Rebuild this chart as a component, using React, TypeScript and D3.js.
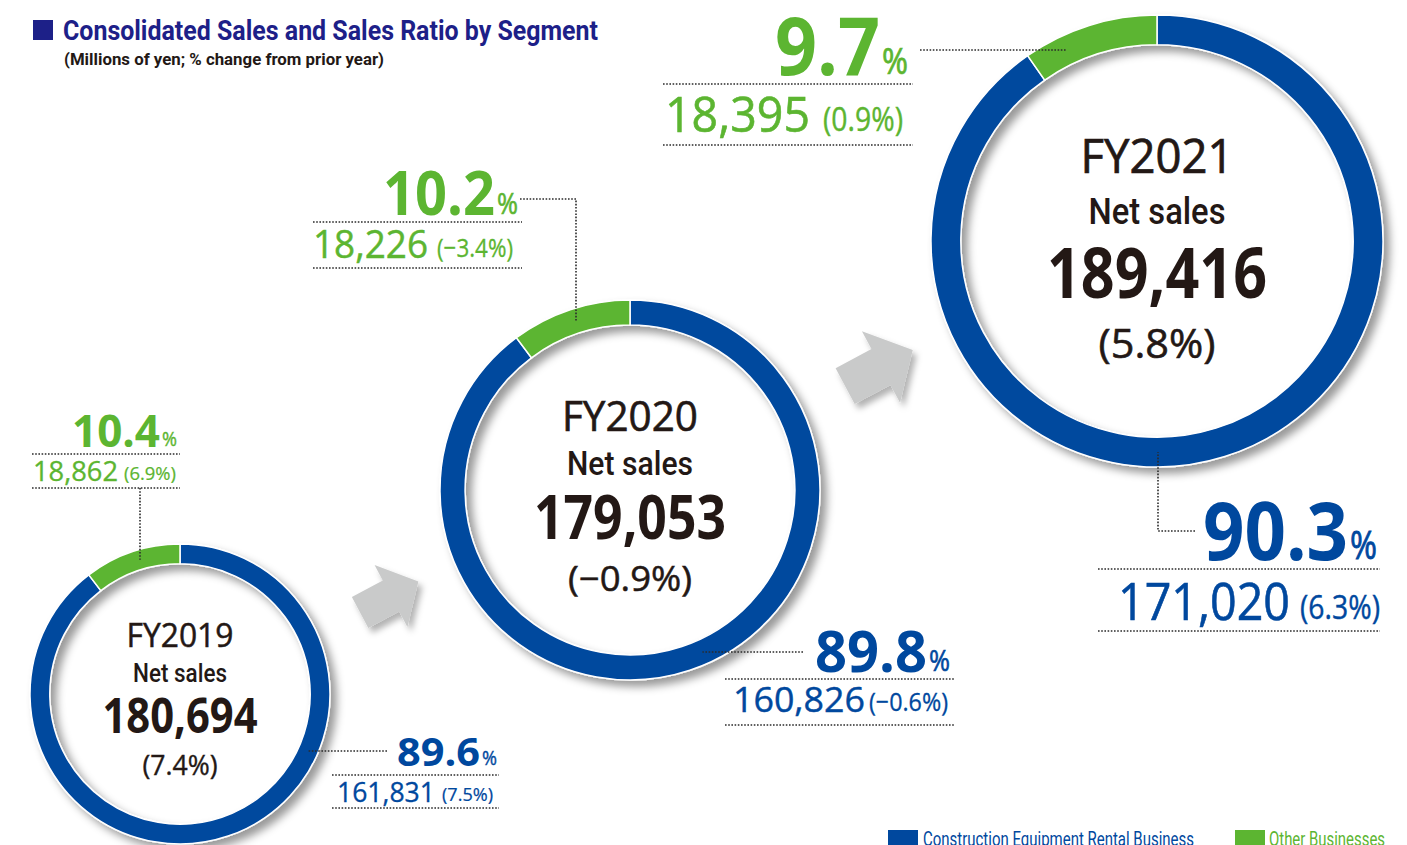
import * as d3 from "d3";

// segment data (millions of yen, % change from prior year, % share)
const years = ["FY2019", "FY2020", "FY2021"];
const netSales = [180694, 179053, 189416];
const netSalesChange = [7.4, -0.9, 5.8];
const rentalSales = [161831, 160826, 171020];
const rentalChange = [7.5, -0.6, 6.3];
const rentalShare = [89.6, 89.8, 90.3];
const otherSales = [18862, 18226, 18395];
const otherChange = [6.9, -3.4, 0.9];
const otherShare = [10.4, 10.2, 9.7];
const segments = ["Construction Equipment Rental Business", "Other Businesses"];

const W = 1407;
const H = 845;
const BLUE = "#00489e";
const GREEN = "#5cb531";
const NAVY = "#1d2088";
const DARK = "#231815";
const DOT = "#2b2b2b";
const ARROW = "#c9caca";

const NUM_FONT = "'Open Sans', 'Noto Sans', sans-serif";
const COND_FONT = "Roboto, 'Liberation Sans', sans-serif";

const fmtVal = d3.format(",");
const fmtChg = (v: number) => `(${v < 0 ? "\u2212" : ""}${Math.abs(v).toFixed(1)}%)`;

// layout of each donut
const rings = [
  { cx: 180, cy: 694, r: 150, ts: 1, widths: [107, 94, 155, 75] },
  { cx: 630, cy: 490, r: 190, ts: 1.25, widths: [136, 126, 192, 124] },
  { cx: 1157, cy: 241, r: 226, ts: 1.45, widths: [153, 137, 220, 117] },
];

type Block = {
  numEnd: number; numW: number; base: number; size: number;
  pctW: number; pctSize: number;
  lx1: number; lx2: number; line1: number; line2: number;
  valX: number; valW: number; valBase: number; valSize: number;
  chgX: number; chgW: number; chgSize: number;
  leader: number[][]; dir: "h" | "v";
};

const greenBlocks: Block[] = [
  { numEnd: 160, numW: 88, base: 447, size: 44, pctW: 15, pctSize: 20,
    lx1: 32, lx2: 180, line1: 454, line2: 488,
    valX: 33, valW: 85, valBase: 481, valSize: 27, chgX: 124, chgW: 52, chgSize: 19,
    leader: [[140, 488]], dir: "v" },
  { numEnd: 495, numW: 112, base: 215, size: 60, pctW: 21, pctSize: 30,
    lx1: 313, lx2: 522, line1: 222, line2: 268,
    valX: 313, valW: 115, valBase: 258, valSize: 38, chgX: 437, chgW: 76, chgSize: 26,
    leader: [[520, 199], [576, 199]], dir: "v" },
  { numEnd: 880, numW: 105, base: 75, size: 80, pctW: 26, pctSize: 36,
    lx1: 663, lx2: 913, line1: 84, line2: 145,
    valX: 665, valW: 145, valBase: 132, valSize: 50, chgX: 823, chgW: 80, chgSize: 32,
    leader: [[920, 50]], dir: "h" },
];

const blueBlocks: Block[] = [
  { numEnd: 480, numW: 83, base: 766, size: 40, pctW: 15, pctSize: 20,
    lx1: 332, lx2: 499, line1: 775, line2: 808,
    valX: 337, valW: 98, valBase: 802, valSize: 28, chgX: 442, chgW: 51, chgSize: 19,
    leader: [[387, 751]], dir: "h" },
  { numEnd: 927, numW: 112, base: 672, size: 58, pctW: 21, pctSize: 30,
    lx1: 725, lx2: 955, line1: 679, line2: 725,
    valX: 733, valW: 132, valBase: 712, valSize: 35, chgX: 869, chgW: 79, chgSize: 26,
    leader: [[803, 652]], dir: "h" },
  { numEnd: 1348, numW: 145, base: 560, size: 80, pctW: 27, pctSize: 38,
    lx1: 1098, lx2: 1380, line1: 569, line2: 631,
    valX: 1118, valW: 172, valBase: 620, valSize: 52, chgX: 1300, chgW: 80, chgSize: 32,
    leader: [[1195, 531], [1158, 531]], dir: "v" },
];

// block arrow pointing right, origin at the middle of the head's base
const arrowShape = [[-35, -17.5], [0, -17.5], [0, -35], [31, 0], [0, 35], [0, 17.5], [-35, 17.5]];
const arrows = [
  { x: 391, y: 596, k: 1, angle: -28 },
  { x: 881, y: 367, k: 1.16, angle: -28 },
];

function leaderPath(b: Block, ring: { cx: number; cy: number; r: number }, thick: number) {
  const rm = ring.r - thick / 2;
  const last = b.leader[b.leader.length - 1];
  let end: number[];
  if (b.dir === "v") {
    const dx = last[0] - ring.cx;
    const dy = Math.sqrt(rm * rm - dx * dx);
    end = [last[0], last[1] < ring.cy ? ring.cy - dy : ring.cy + dy];
  } else {
    const dy = last[1] - ring.cy;
    const dx = Math.sqrt(rm * rm - dy * dy);
    end = [last[0] < ring.cx ? ring.cx - dx : ring.cx + dx, last[1]];
  }
  return d3.line()([...b.leader, end] as [number, number][]) as string;
}

function LabelBlock({ b, color, share, value, change, ring, thick }: any) {
  return (
    <g>
      <path d={leaderPath(b, ring, thick)} fill="none" stroke={DOT} strokeWidth={1.6} strokeDasharray="1.6 1.6" />
      <text x={b.numEnd - b.numW} y={b.base} fontSize={b.size} fontWeight={700} fontFamily={NUM_FONT}
        fill={color} textLength={b.numW} lengthAdjust="spacingAndGlyphs">{share.toFixed(1)}</text>
      <text x={b.numEnd + 2} y={b.base - 1} fontSize={b.pctSize} fontFamily={NUM_FONT}
        fill={color} stroke={color} strokeWidth={b.pctSize * 0.02}
        textLength={b.pctW} lengthAdjust="spacingAndGlyphs">%</text>
      <line x1={b.lx1} x2={b.lx2} y1={b.line1} y2={b.line1} stroke={DOT} strokeWidth={1.6} strokeDasharray="1.6 1.6" />
      <text x={b.valX} y={b.valBase} fontSize={b.valSize} fontFamily={NUM_FONT}
        fill={color} stroke={color} strokeWidth={b.valSize * 0.012}
        textLength={b.valW} lengthAdjust="spacingAndGlyphs">{fmtVal(value)}</text>
      <text x={b.chgX} y={b.valBase - 1} fontSize={b.chgSize} fontFamily={NUM_FONT}
        fill={color} stroke={color} strokeWidth={b.chgSize * 0.012}
        textLength={b.chgW} lengthAdjust="spacingAndGlyphs">{fmtChg(change)}</text>
      <line x1={b.lx1} x2={b.lx2} y1={b.line2} y2={b.line2} stroke={DOT} strokeWidth={1.6} strokeDasharray="1.6 1.6" />
    </g>
  );
}

export default function App() {
  const pie = d3.pie<number>().sort(null).value((d) => d);

  return (
    <svg width={W} height={H} style={{ position: "absolute", left: 0, top: 0, display: "block" }}>
      <defs>
        <filter id="ringShadow" x="-20%" y="-20%" width="140%" height="140%">
          <feDropShadow dx="6" dy="6" stdDeviation="4" floodColor="#000" floodOpacity="0.4" />
        </filter>
        <filter id="arrowShadow" x="-30%" y="-30%" width="160%" height="160%">
          <feDropShadow dx="4" dy="5" stdDeviation="3" floodColor="#000" floodOpacity="0.3" />
        </filter>
      </defs>
      <rect width={W} height={H} fill="#fff" />

      {/* title */}
      <rect x={33} y={20} width={20} height={20} fill={NAVY} />
      <text x={63} y={40} fontSize={27} fontWeight={700} fontFamily={COND_FONT} fill={NAVY}
        textLength={535} lengthAdjust="spacingAndGlyphs">Consolidated Sales and Sales Ratio by Segment</text>
      <text x={64} y={65} fontSize={16} fontWeight={700} fontFamily={COND_FONT} fill={DARK}
        textLength={320} lengthAdjust="spacingAndGlyphs">(Millions of yen; % change from prior year)</text>

      {/* arrows */}
      {arrows.map((a, i) => (
        <g key={i} filter="url(#arrowShadow)">
          <polygon fill={ARROW} transform={`translate(${a.x},${a.y}) rotate(${a.angle}) scale(${a.k})`}
            points={arrowShape.map(([x, y]) => `${x},${y}`).join(" ")} />
        </g>
      ))}

      {years.map((yr, i) => {
        const ring = rings[i];
        const thick = ring.r * 0.132;
        const arc = d3.arc<d3.PieArcDatum<number>>().innerRadius(ring.r - thick).outerRadius(ring.r);
        const arcs = pie([rentalShare[i], otherShare[i]]);
        const s = ring.ts;
        const [fyW, netW, totW, chgW] = ring.widths;
        return (
          <g key={yr}>
            <g transform={`translate(${ring.cx},${ring.cy})`} filter="url(#ringShadow)">
              {arcs.map((a, j) => (
                <path key={j} d={arc(a) as string} fill={j === 0 ? BLUE : GREEN} stroke="#fff" strokeWidth={1.5} />
              ))}
            </g>
            <g transform={`translate(${ring.cx},${ring.cy})`} fill={DARK} stroke={DARK} textAnchor="middle">
              <text y={-47 * s} fontSize={33 * s} fontFamily={NUM_FONT} strokeWidth={0.5 * s}
                textLength={fyW} lengthAdjust="spacingAndGlyphs">{yr}</text>
              <text y={-12 * s} fontSize={26 * s} fontWeight={500} fontFamily={COND_FONT} strokeWidth={0}
                textLength={netW} lengthAdjust="spacingAndGlyphs">Net sales</text>
              <text y={39 * s} fontSize={48 * s} fontWeight={700} fontFamily={NUM_FONT} strokeWidth={0}
                textLength={totW} lengthAdjust="spacingAndGlyphs">{fmtVal(netSales[i])}</text>
              <text y={81 * s} fontSize={28 * s} fontFamily={NUM_FONT} strokeWidth={0.4 * s}
                textLength={chgW} lengthAdjust="spacingAndGlyphs">{fmtChg(netSalesChange[i])}</text>
            </g>
            <LabelBlock b={greenBlocks[i]} color={GREEN} share={otherShare[i]} value={otherSales[i]}
              change={otherChange[i]} ring={ring} thick={thick} />
            <LabelBlock b={blueBlocks[i]} color={BLUE} share={rentalShare[i]} value={rentalSales[i]}
              change={rentalChange[i]} ring={ring} thick={thick} />
          </g>
        );
      })}

      {/* legend */}
      <rect x={888} y={830} width={30} height={20} fill={BLUE} />
      <text x={923} y={846} fontSize={19.5} fontFamily={COND_FONT} fill={BLUE}
        textLength={271} lengthAdjust="spacingAndGlyphs">{segments[0]}</text>
      <rect x={1235} y={830} width={30} height={20} fill={GREEN} />
      <text x={1269} y={846} fontSize={19.5} fontFamily={COND_FONT} fill={GREEN}
        textLength={116} lengthAdjust="spacingAndGlyphs">{segments[1]}</text>
    </svg>
  );
}
